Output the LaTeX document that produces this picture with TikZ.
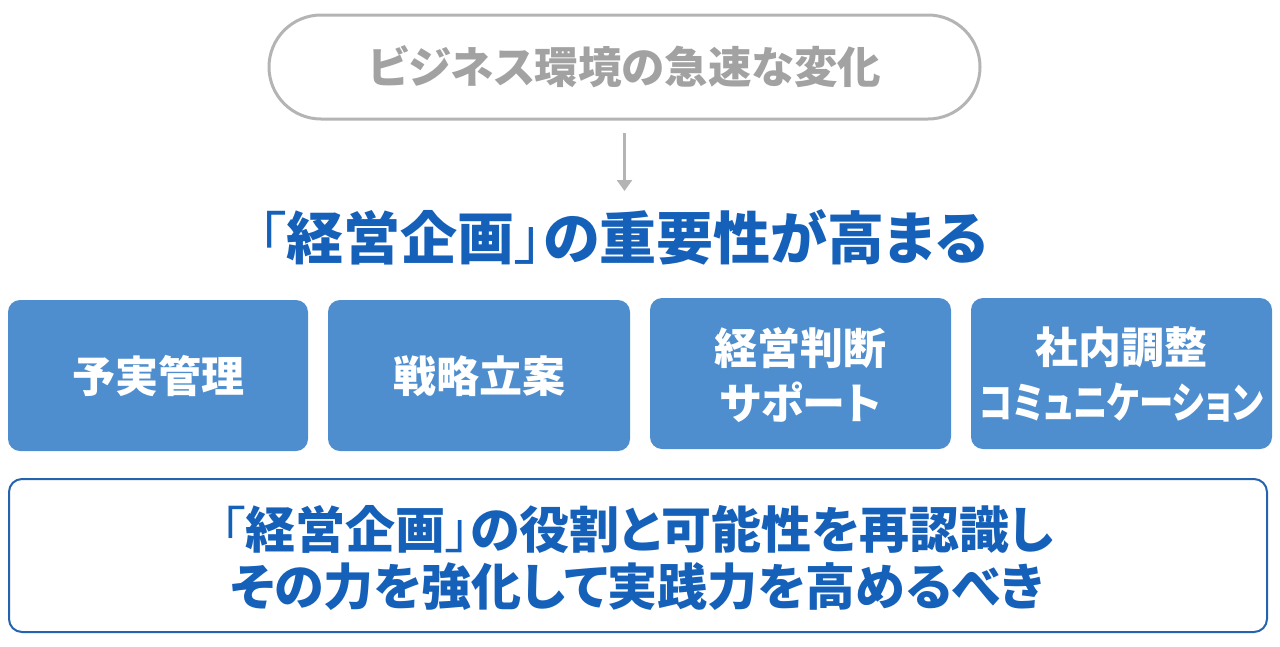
\documentclass[tikz,border=0pt]{standalone}
\usepackage{fontspec}
\setmainfont{Noto Sans CJK JP}[RawFeature=+palt]
\usetikzlibrary{arrows.meta}
\definecolor{pillgray}{HTML}{B4B4B4}
\definecolor{txtgray}{HTML}{A2A2A2}
\definecolor{titleblue}{HTML}{1560B8}
\definecolor{boxblue}{HTML}{4E8ECE}
\definecolor{frameblue}{HTML}{2463AE}
\newcommand{\lbr}{{\mdseries 「}}
\newcommand{\rbr}{{\mdseries 」}}
\tikzset{
  pill/.style={draw=pillgray, line width=3pt, rounded corners=52pt, fill=white},
  catbox/.style={fill=boxblue, rounded corners=12pt, draw=none},
  cattext/.style={text=white, font=\fontsize{43}{55}\selectfont\bfseries, align=center},
  framebox/.style={draw=frameblue, line width=2pt, rounded corners=13pt},
}
\begin{document}
\begin{tikzpicture}[x=1pt,y=-1pt]
\useasboundingbox (0,0) rectangle (1280,646);
% top pill
\draw[pill] (269,15) rectangle (980,119);
\node[text=txtgray, font=\fontsize{43.5}{50}\selectfont\bfseries] (env) at (625,67) {ビジネス環境の急速な変化};
\coordinate (pillbot) at (624.5,133);
\coordinate (arrtip) at (624.5,191);
\draw[pillgray, line width=2.5pt, -{Triangle[length=11pt,width=15pt]}] (pillbot) -- (arrtip);
% title
\node[text=titleblue, font=\fontsize{57}{60}\selectfont\bfseries] (title) at (623,237) {\lbr 経営企画\rbr の重要性が高まる};
% four boxes
\path[catbox] (8,300) rectangle (308,451);
\path[catbox] (328,300) rectangle (630,451);
\path[catbox] (650,298) rectangle (951,449);
\path[catbox] (971,298) rectangle (1272,449);
\node[cattext] (b1) at (158,376) {予実管理};
\node[cattext] (b2) at (479,376) {戦略立案};
\node[cattext] (b3) at (800.5,375.5) {経営判断\\サポート};
\node[cattext] (b4) at (1121.5,374.5) {社内調整\\\scalebox{0.80}[1]{コミュニケーション}};
% bottom frame
\draw[framebox] (9,479) rectangle (1267,632);
\node[text=titleblue, font=\fontsize{50}{57}\selectfont\bfseries, align=center] (concl) at (637,558) {\lbr 経営企画\rbr の役割と可能性を再認識し\\その力を強化して実践力を高めるべき};
\end{tikzpicture}
\end{document}
